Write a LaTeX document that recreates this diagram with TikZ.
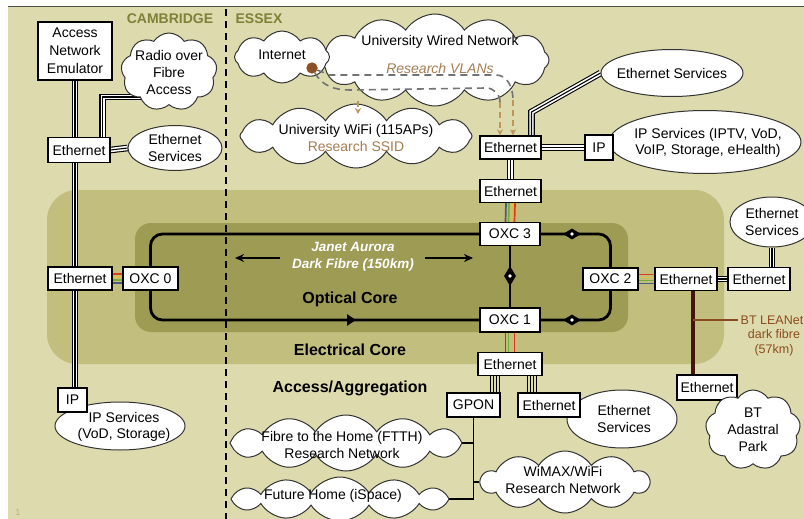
\documentclass[tikz,border=0pt]{standalone}
\usepackage{fontspec}
\setmainfont{Liberation Sans}
\usetikzlibrary{shapes.geometric,shapes.symbols,arrows.meta}
\pgfdeclarelayer{bg}\pgfdeclarelayer{lines}
\pgfsetlayers{bg,lines,main}
\definecolor{bgc}{RGB}{221,219,174}
\definecolor{elec}{RGB}{193,190,126}
\definecolor{opt}{RGB}{158,155,84}
\definecolor{olivec}{RGB}{128,128,56}
\definecolor{tanc}{RGB}{190,150,90}
\definecolor{vlanc}{RGB}{165,125,80}
\definecolor{brn}{RGB}{139,80,35}
\definecolor{btc}{RGB}{70,20,15}
\definecolor{btt}{RGB}{140,75,30}
\definecolor{cr}{RGB}{220,60,30}
\definecolor{cy}{RGB}{225,190,60}
\definecolor{cg}{RGB}{120,170,60}
\definecolor{cb}{RGB}{70,90,130}
\newcommand\fs{\fontsize{14}{16.5}\selectfont}
\newcommand\fb{\fontsize{16}{18}\selectfont\bfseries}
\newcommand\fourh[2]{\foreach \c/\o in {cr/4.5,cy/1.5,cg/-1.5,cb/-4.5}{\draw[\c,line width=1.7pt] ([yshift=\o pt]#1.east) -- ([yshift=\o pt]#2.west);}}
\newcommand\fourv[2]{\foreach \c/\o in {cb/-4.5,cg/-1.5,cy/1.5,cr/4.5}{\draw[\c,line width=1.7pt] ([xshift=\o pt]#1.south) -- ([xshift=\o pt]#2.north);}}
\newcommand\quadv[3]{\foreach \o in {-4.5,-1.5,1.5,4.5}{\draw[line width=1.2pt] ([xshift={(#3)+(\o)}]#1.south) -- ([xshift={(#3)+(\o)}]#1.south |- #2.north);}}
\begin{document}
\begin{tikzpicture}[x=1pt,y=-1pt,
  every node/.style={font=\fs},
  box/.style={draw,line width=1.4pt,fill=white,inner sep=0pt,minimum height=23pt},
  cl/.style={cloud,cloud puffs=#1,cloud puff arc=115,cloud ignores aspect,draw=black!80,line width=1pt,fill=white,inner sep=0pt},
  cl/.default=10,
  ell/.style={ellipse,draw=black!80,line width=1pt,fill=white,inner sep=0pt},
  txt/.style={align=center,inner sep=0pt},
  tri/.style={line width=1.1pt,preaction={draw,line width=6.6pt},preaction={draw,white,line width=4.4pt}},
  ring/.style={line width=2.8pt},
  mk/.style={diamond,fill=black,inner sep=0pt,minimum width=18pt,minimum height=11pt},
  vg/.style={dash pattern=on 7pt off 5pt,line width=1.6pt,draw=black!55},
  vt/.style={dash pattern=on 6pt off 4pt,line width=1.3pt,draw=tanc,-{Stealth[length=6pt,width=6pt]}},
]
\useasboundingbox (0,0) rectangle (804,519);
\clip (0,0) rectangle (804,519);

% ---------- background ----------
\begin{pgfonlayer}{bg}
\fill[white] (0,0) rectangle (804,519);
\fill[bgc] (8,7) rectangle (804,519);
\draw[black!70,line width=1pt] (8,7) -- (804,7);
\fill[elec,rounded corners=30pt] (47,190) rectangle (724,364);
\fill[opt,rounded corners=16pt] (135,223) rectangle (628,332);
\draw[dash pattern=on 7pt off 5pt,line width=1.4pt] (226,9) -- (226,519);
\end{pgfonlayer}

% ---------- region labels ----------
\node[font=\fontsize{14}{16}\selectfont\bfseries,text=olivec] (cam) at (170,19) {CAMBRIDGE};
\node[font=\fontsize{14}{16}\selectfont\bfseries,text=olivec] (ess) at (259,19) {ESSEX};
\node[font=\fb] (optl) at (350,299) {Optical Core};
\node[font=\fb] (elecl) at (350,350) {Electrical Core};
\node[font=\fb] (accl) at (350,388) {Access/Aggregation};
\node[font=\fontsize{13.5}{17}\selectfont\bfseries\itshape,text=white,align=center] (janet) at (353,257) {Janet Aurora\\Dark Fibre (150km)};
\node[font=\fontsize{9}{10}\selectfont,text=tanc!70!bgc] (pg) at (18,512) {1};

% ---------- Cambridge nodes ----------
\node[box,minimum width=74pt,minimum height=58pt,align=center,font=\fontsize{14}{18}\selectfont] (ane) at (75,51) {Access\\Network\\Emulator};
\node[cl=9,minimum width=96pt,minimum height=78pt] (rof) at (169,72) {};
\node[txt,font=\fontsize{14}{17}\selectfont] (roft) at (169,72) {Radio over\\Fibre\\Access};
\node[box,minimum width=62pt,minimum height=25pt] (ethL) at (79,150) {Ethernet};
\node[ell,minimum width=94pt,minimum height=45pt] (esL) at (175,148) {};
\node[txt] (esLt) at (175,148) {Ethernet\\Services};
\node[box,minimum width=64pt] (ethC) at (80,278.5) {Ethernet};
\node[ell,minimum width=130pt,minimum height=48pt] (ipsL) at (120,426) {};
\node[txt] (ipsLt) at (124,427) {IP Services\\(VoD, Storage)};
\node[box,minimum width=29pt,minimum height=24pt] (ipL) at (72.5,400) {IP};

% ---------- Essex top ----------
\node[cl=12,minimum width=228pt,minimum height=92pt] (wired) at (435,60) {};
\node[txt] (wiredt) at (440,42) {University Wired Network};
\node[txt,text=vlanc,font=\fs\itshape] (vlant) at (440,68) {Research VLANs};
\node[cl=8,minimum width=95pt,minimum height=52pt] (inet) at (282,57) {};
\node[txt] (inett) at (282,55) {Internet};
\node[cl=12,minimum width=232pt,minimum height=64pt] (wifi) at (356,136) {};
\node[txt] (wifit) at (356,138) {University WiFi (115APs)\\{\color{vlanc}Research SSID}};

% VLAN dashed paths
\node[circle,fill=brn,minimum size=11pt,inner sep=0pt] (dot) at (312,68) {};
\draw[vg] (dot) -- (330,75) -- (496,75) to[out=0,in=90] (513,100);
\draw[vg] (dot) to[out=-60,in=180] (350,90) -- (486,88) to[out=0,in=90] (500,102);
\node[circle,fill=brn,minimum size=11pt,inner sep=0pt] (dot2) at (312,68) {};
\coordinate (wfa) at (358,101);
\coordinate (wfb) at (358,114);
\draw[vt] (wfa) -- (wfb);

\node[box,minimum width=61pt] (ethU) at (510.5,147.5) {Ethernet};
\node[box,minimum width=61pt] (ethM) at (510.5,191) {Ethernet};
\draw[vt] (513,100) -- ([xshift=2.5pt]ethU.north);
\draw[vt] (500,102) -- ([xshift=-10.5pt]ethU.north);

\node[ell,minimum width=142pt,minimum height=47pt] (esT) at (672,73) {};
\node[txt] (esTt) at (672,73) {Ethernet Services};
\node[ell,minimum width=192pt,minimum height=63pt] (ipsR) at (705,142) {};
\node[txt] (ipsRt) at (708,143) {IP Services (IPTV, VoD,\\VoIP, Storage, eHealth)};
\node[box,minimum width=28pt,minimum height=25pt] (ipR) at (599,147.5) {IP};

% ---------- core ----------
\node[box,minimum width=55pt] (oxc0) at (150.5,278.5) {OXC 0};
\node[box,minimum width=60pt] (oxc3) at (510,234) {OXC 3};
\node[box,minimum width=60pt,minimum height=24pt] (oxc1) at (510,320) {OXC 1};
\node[box,minimum width=55pt,minimum height=22pt] (oxc2) at (610.5,279) {OXC 2};
\node[mk] (mk1) at (572,234) {};
\node[mk] (mk2) at (572,320) {};
\node[mk,minimum width=12pt,minimum height=20pt] (mk3) at (510,276) {};
\foreach \m in {mk1,mk2,mk3} \fill[white] (\m) circle (1.8pt);

\node[box,minimum width=62pt] (ethR1) at (686,279) {Ethernet};
\node[box,minimum width=62pt] (ethR2) at (759,279) {Ethernet};
\node[ell,minimum width=84pt,minimum height=50pt] (esR) at (772,222) {};
\node[txt] (esRt) at (772,222) {Ethernet\\Services};
\node[box,minimum width=60pt,minimum height=25pt] (ethBT) at (707,387.5) {Ethernet};
\node[cl=9,minimum width=95pt,minimum height=80pt] (btp) at (753,430) {};
\node[txt,font=\fontsize{14}{17}\selectfont] (btpt) at (753,430) {BT\\Adastral\\Park};
\node[txt,text=btt,font=\fontsize{12.5}{15}\selectfont] (btl) at (772,320) {BT LEANet};
\node[txt,text=btt,font=\fontsize{12.5}{15}\selectfont] (btl2) at (774,343) {dark fibre\\(57km)};

% ---------- access ----------
\node[box,minimum width=64pt] (ethB) at (510,364) {Ethernet};
\node[box,minimum width=53pt,minimum height=24pt] (gpon) at (473.5,405) {GPON};
\node[ell,minimum width=110pt,minimum height=58pt] (esA) at (622,419) {};
\node[txt] (esAt) at (624,419) {Ethernet\\Services};
\node[box,minimum width=62pt,minimum height=24pt] (ethA) at (549,405) {Ethernet};
\node[cl=12,minimum width=232pt,minimum height=56pt] (ftth) at (346,443) {};
\node[txt] (ftthtx) at (342,445) {Fibre to the Home (FTTH)\\Research Network};
\node[cl=12,minimum width=218pt,minimum height=44pt] (fh) at (340,499) {};
\node[txt] (fht) at (333,496) {Future Home (iSpace)};
\node[cl=10,minimum width=168pt,minimum height=62pt] (wimax) at (565,482) {};
\node[txt] (wimaxt) at (563,480) {WiMAX/WiFi\\Research Network};

% ---------- connectors ----------
\begin{pgfonlayer}{lines}
\draw[tri] (ane.south) -- (ane.south |- ipL.north);
\draw[tri] ([yshift=-25pt]rof.center) -| ([xshift=-8pt]ethL.north east);
\draw[tri] (ethL.east) -- (esL.west);
\fourh{ethC}{oxc0}
\draw[tri] (ethU) -- (ethM);
\draw[tri] (ethU.east) -- (ipR.west);
\draw[tri] ([xshift=21pt]ethU.north) -- ([xshift=21pt]ethU.north |- 0,112) -- (esT.west);
\fourv{ethM}{oxc3}
\draw[ring,rounded corners=12pt] (oxc0.center) |- (oxc3.center) -| (oxc2.center) |- (oxc1.center) -| (oxc0.center) -- ++(0,-20);
\draw[line width=2.6pt] (oxc3) -- (oxc1);
\fourh{oxc2}{ethR1}
\draw[tri] (ethR1.east) -- (ethR2.west);
\draw[tri] (esR.south) -- (esR.south |- ethR2.north);
\draw[btc,line width=3.5pt] ([xshift=7pt]ethR1.south) -- ([xshift=7pt]ethR1.south |- ethBT.north);
\draw[btt,line width=1.2pt] ([xshift=7pt]ethR1.south |- btl.west) -- ([xshift=-3pt]btl.west);
\fourv{oxc1}{ethB}
\quadv{ethB}{gpon}{-15}
\quadv{ethB}{ethA}{22}
\draw[line width=1.3pt] (gpon.south) |- (fh.east);
\draw[line width=1.3pt] (gpon.south |- ftth.east) -- ([xshift=-5pt]ftth.east);
\draw[line width=1.3pt] (gpon.south |- wimax.west) -- (wimax.west);
\end{pgfonlayer}

% ring arrows
\coordinate (la1) at (280,258); \coordinate (la2) at (235,258);
\draw[line width=1.8pt,-{Stealth[length=9pt,width=8pt]}] (la1) -- (la2);
\coordinate (ra1) at (425,258); \coordinate (ra2) at (473,258);
\draw[line width=1.8pt,-{Stealth[length=9pt,width=8pt]}] (ra1) -- (ra2);
\coordinate (ba1) at (330,320); \coordinate (ba2) at (356,320);
\draw[line width=2.8pt,-{Triangle[length=9pt,width=11pt]}] (ba1) -- (ba2);
\end{tikzpicture}
\end{document}
